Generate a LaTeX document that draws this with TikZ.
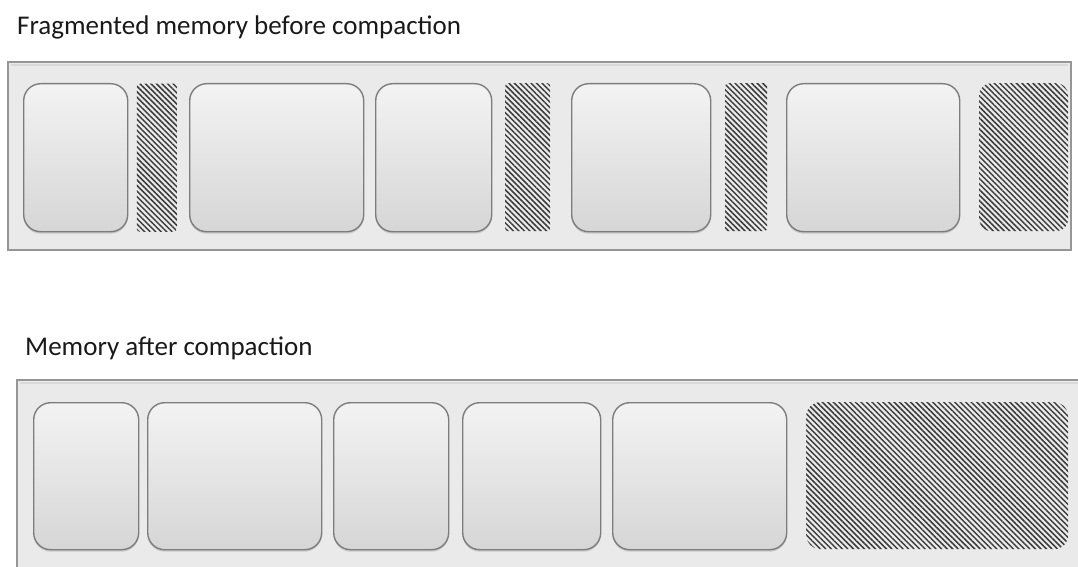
\documentclass[tikz,border=0pt]{standalone}
\usepackage{fontspec}
\setmainfont{Carlito}
\usepackage{tikz}
\usetikzlibrary{patterns.meta, shadows}
\definecolor{memframe}{RGB}{150,150,150}
\definecolor{membg}{RGB}{234,234,234}
\definecolor{blockedge}{RGB}{125,125,125}
\definecolor{blocktop}{RGB}{243,243,243}
\definecolor{blockbot}{RGB}{214,214,214}
\definecolor{hatchink}{RGB}{60,60,60}
\tikzset{
	memory/.style={draw=memframe, line width=1.3pt, fill=membg},
	used/.style={draw=blockedge, line width=1.4pt, rounded corners=17pt,
		top color=blocktop, bottom color=blockbot, anchor=north west,
		inner sep=0pt, drop shadow={shadow xshift=0pt, shadow yshift=-2pt, opacity=0.3}},
	free/.style={rounded corners=3pt, anchor=north west, inner sep=0pt,
		preaction={fill=white!92!black},
		pattern={Lines[angle=-45, distance=3.9pt, line width=1.5pt]}, pattern color=hatchink},
	caption/.style={anchor=base west, inner sep=0pt, font=\fontsize{27}{32}\selectfont, text=black!90}
}

\begin{document}
\begin{tikzpicture}[x=1pt, y=-1pt]
\useasboundingbox (0,0) rectangle (1078,567);
\clip (0,0) rectangle (1078,567);

% --- TOP: fragmented memory ---
\node[caption] (title_before) at (17,35) {Fragmented memory before compaction};
\draw[memory] (8,62) rectangle (1071,250);
\draw[white!85!black, line width=1.5pt] (11,65) -- (1068,65);

% used blocks: left x / width
\foreach \x/\w [count=\i] in {23/104, 189/174, 375/116, 571/139, 786/173}
	\node[used, minimum width=\w pt, minimum height=148pt] (before\i) at (\x,83) {};
% holes: left x / width
\foreach \x/\w [count=\i] in {136/40, 505/45, 725/42}
	\node[free, minimum width=\w pt, minimum height=148pt] (hole\i) at (\x,83) {};
\node[free, rounded corners=12pt, minimum width=89pt, minimum height=148pt] (hole4) at (979,83) {};

% --- BOTTOM: memory after compaction ---
\node[caption] (title_after) at (25,355) {Memory after compaction};
\draw[memory] (17,380) rectangle (1100,600);
\draw[white!85!black, line width=1.5pt] (20,383) -- (1100,383);

\foreach \x/\w [count=\i] in {33/105, 147/174, 333/115, 462/138, 612/174}
	\node[used, minimum width=\w pt, minimum height=147pt] (after\i) at (\x,402) {};
\node[free, rounded corners=14pt, minimum width=262pt, minimum height=147pt] (freespace) at (806,402) {};

\end{tikzpicture}
\end{document}
